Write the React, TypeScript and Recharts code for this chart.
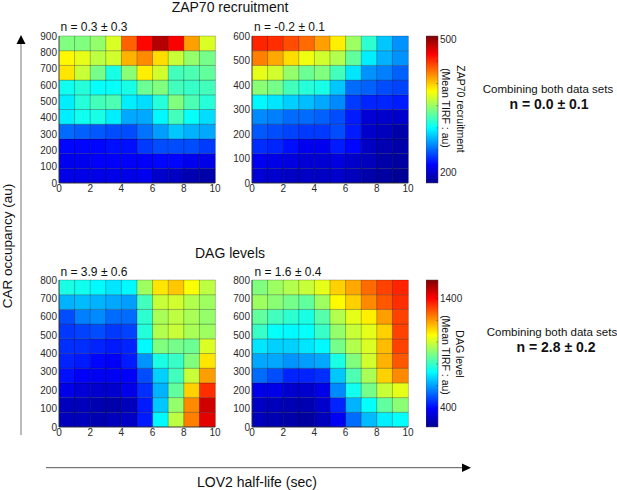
import React from 'react';
import { BarChart, Bar, Cell, XAxis, YAxis } from 'recharts';

// cell values in au, listed as in the picture: top row first
const zapLeft = [
  [342, 342, 348, 371, 434, 464, 490, 467, 414, 371],
  [385, 375, 361, 368, 408, 421, 394, 365, 348, 338],
  [391, 365, 338, 308, 345, 388, 368, 322, 325, 332],
  [305, 312, 302, 302, 308, 335, 342, 322, 318, 322],
  [295, 312, 322, 325, 295, 289, 312, 342, 325, 312],
  [295, 305, 308, 295, 272, 272, 298, 322, 302, 289],
  [252, 249, 246, 242, 242, 255, 269, 282, 275, 272],
  [219, 219, 219, 222, 222, 236, 242, 242, 242, 236],
  [212, 212, 216, 216, 216, 216, 219, 219, 212, 209],
  [209, 209, 209, 209, 209, 212, 199, 196, 189, 186],
];
const zapRight = [
  [454, 451, 441, 431, 414, 388, 351, 315, 282, 265],
  [424, 411, 394, 378, 368, 358, 332, 295, 275, 265],
  [375, 368, 348, 335, 342, 322, 292, 265, 259, 249],
  [345, 338, 322, 312, 308, 282, 252, 249, 242, 239],
  [298, 292, 285, 279, 272, 262, 236, 229, 229, 226],
  [262, 259, 252, 252, 249, 242, 226, 202, 199, 199],
  [246, 242, 239, 236, 236, 242, 226, 199, 193, 186],
  [232, 229, 222, 212, 212, 226, 219, 196, 189, 186],
  [212, 209, 206, 202, 202, 206, 199, 193, 186, 183],
  [202, 199, 196, 196, 196, 199, 193, 186, 183, 179],
];
const dagLeft = [
  [760, 747, 720, 693, 720, 936, 1098, 1139, 1058, 977],
  [625, 638, 625, 611, 598, 814, 990, 1004, 963, 936],
  [490, 557, 571, 530, 530, 787, 950, 977, 950, 923],
  [463, 476, 490, 463, 476, 774, 963, 990, 950, 936],
  [449, 449, 435, 422, 435, 720, 896, 882, 868, 1017],
  [435, 422, 395, 381, 422, 584, 760, 801, 896, 1098],
  [408, 381, 368, 368, 381, 490, 665, 814, 990, 1193],
  [354, 327, 314, 314, 354, 449, 625, 855, 1126, 1342],
  [287, 287, 273, 260, 287, 422, 652, 923, 1220, 1464],
  [287, 287, 273, 287, 300, 422, 720, 977, 1234, 1437],
];
const dagRight = [
  [896, 936, 963, 990, 1031, 1126, 1180, 1261, 1315, 1356],
  [936, 909, 882, 855, 936, 1071, 1126, 1220, 1288, 1342],
  [855, 814, 787, 760, 841, 963, 1031, 1085, 1193, 1315],
  [801, 733, 720, 733, 801, 923, 990, 1031, 1126, 1315],
  [693, 665, 665, 693, 720, 882, 963, 1017, 1153, 1315],
  [611, 611, 584, 598, 611, 760, 896, 1004, 1166, 1288],
  [530, 490, 435, 435, 449, 652, 828, 950, 1126, 1220],
  [354, 354, 314, 314, 354, 571, 747, 882, 990, 1031],
  [300, 287, 273, 273, 314, 435, 625, 733, 855, 909],
  [287, 273, 260, 246, 287, 368, 530, 638, 706, 733],
];

const halfLifeCentres = [0.5, 1.5, 2.5, 3.5, 4.5, 5.5, 6.5, 7.5, 8.5, 9.5];
const halfLifeTicks = [0, 2, 4, 6, 8, 10];
const occupancyTicks900 = [0, 100, 200, 300, 400, 500, 600, 700, 800, 900];
const occupancyTicks800 = [0, 100, 200, 300, 400, 500, 600, 700, 800];
const occupancyTicks600 = [0, 100, 200, 300, 400, 500, 600];

const zapRange: [number, number] = [176, 507];
const dagRange: [number, number] = [219, 1572];
const zapBarTicks = [200, 250, 300, 350, 400, 450, 500];
const dagBarTicks = [400, 600, 800, 1000, 1200, 1400];
const zapBarLabels = [200, 500];
const dagBarLabels = [400, 1400];

// jet colormap
const jetStops: [number, string][] = [
  [0, '#00008f'],
  [0.125, '#0000ff'],
  [0.375, '#00ffff'],
  [0.625, '#ffff00'],
  [0.875, '#ff0000'],
  [1, '#800000'],
];

const FONT = '"Liberation Sans", Arial, sans-serif';
const TICK = { fontSize: 10, fill: '#2a2a2a', fontFamily: FONT };

function hexToRgb(hex: string) {
  return [1, 3, 5].map(i => parseInt(hex.slice(i, i + 2), 16));
}

function jet(value: number, range: [number, number]) {
  const t = Math.min(1, Math.max(0, (value - range[0]) / (range[1] - range[0])));
  const idx = jetStops.findIndex(s => s[0] >= t);
  if (idx <= 0) return jetStops[0][1];
  const [t0, c0] = jetStops[idx - 1];
  const [t1, c1] = jetStops[idx];
  const a = hexToRgb(c0);
  const b = hexToRgb(c1);
  const f = (t - t0) / (t1 - t0);
  return `rgb(${a.map((v, i) => Math.round(v + (b[i] - v) * f)).join(',')})`;
}

interface HeatmapProps {
  rows: number[][];
  yMax: number;
  yTicks: number[];
  range: [number, number];
  left: number;
  top: number;
}

function Heatmap({ rows, yMax, yTicks, range, left, top }: HeatmapProps) {
  const bottomUp = [...rows].reverse();
  const binHeight = yMax / rows.length;
  const data = halfLifeCentres.map(x => {
    const d: Record<string, number> = { x };
    bottomUp.forEach((_, r) => {
      d[`r${r}`] = binHeight;
    });
    return d;
  });
  return (
    <div style={{ position: 'absolute', left, top }}>
      <BarChart
        width={201}
        height={178}
        data={data}
        barCategoryGap={0}
        margin={{ top: 8, right: 10, bottom: 0, left: 0 }}
      >
        <XAxis
          dataKey="x"
          type="number"
          domain={[0, 10]}
          ticks={halfLifeTicks}
          interval={0}
          tick={TICK}
          tickSize={0}
          tickMargin={2}
          height={23}
          axisLine={{ stroke: '#333', strokeWidth: 0.8 }}
        />
        <YAxis
          type="number"
          domain={[0, yMax]}
          ticks={yTicks}
          interval={0}
          tick={TICK}
          tickSize={0}
          tickMargin={2}
          width={35}
          axisLine={{ stroke: '#333', strokeWidth: 0.8 }}
        />
        {bottomUp.map((row, r) => (
          <Bar key={r} dataKey={`r${r}`} stackId="cells" isAnimationActive={false}>
            {row.map((value, c) => (
              <Cell key={c} fill={jet(value, range)} stroke="#000" strokeOpacity={0.32} strokeWidth={0.7} />
            ))}
          </Bar>
        ))}
      </BarChart>
    </div>
  );
}

interface ColorbarProps {
  id: string;
  range: [number, number];
  ticks: number[];
  labels: number[];
  left: number;
  top: number;
}

function Colorbar({ id, range, ticks, labels, left, top }: ColorbarProps) {
  // every tick gets a faint mark, only some of them a number
  const renderTick = ({ x, y, payload }: any) => (
    <g>
      <line x1={x - 2} x2={x} y1={y} y2={y} stroke="#000" strokeOpacity={0.35} strokeWidth={0.7} />
      {labels.includes(payload.value) && (
        <text x={x + 2} y={y} dy="0.35em" fontSize={10} fill="#2a2a2a" fontFamily={FONT}>
          {payload.value}
        </text>
      )}
    </g>
  );
  return (
    <div style={{ position: 'absolute', left, top: top - 6 }}>
      <BarChart
        width={43}
        height={159}
        data={[{ level: range[1] }]}
        barCategoryGap={0}
        margin={{ top: 6, right: 0, bottom: 6, left: 0 }}
      >
        <defs>
          <linearGradient id={id} x1="0" y1="1" x2="0" y2="0">
            {jetStops.map(([offset, color]) => (
              <stop key={offset} offset={offset} stopColor={color} />
            ))}
          </linearGradient>
        </defs>
        <XAxis hide dataKey="level" />
        <YAxis
          orientation="right"
          type="number"
          domain={range}
          ticks={ticks}
          interval={0}
          tick={renderTick}
          tickSize={0}
          tickMargin={0}
          width={31}
          axisLine={false}
        />
        <Bar dataKey="level" fill={`url(#${id})`} stroke="#445" strokeWidth={0.5} isAnimationActive={false} />
      </BarChart>
    </div>
  );
}

function Label({ x, y, size, bold, rotate, children }: {
  x: number; y: number; size: number; bold?: boolean; rotate?: number; children: React.ReactNode;
}) {
  return (
    <div
      style={{
        position: 'absolute',
        left: x,
        top: y,
        transform: `translate(-50%, -50%) rotate(${rotate ?? 0}deg)`,
        fontSize: size,
        fontWeight: bold ? 700 : 400,
        fontFamily: FONT,
        color: '#111',
        whiteSpace: 'nowrap',
      }}
    >
      {children}
    </div>
  );
}

export default function App() {
  return (
    <div style={{ position: 'absolute', left: 0, top: 0, width: 617, height: 490, background: '#fff', overflow: 'hidden' }}>
      <Heatmap rows={zapLeft} yMax={900} yTicks={occupancyTicks900} range={zapRange} left={24} top={28} />
      <Heatmap rows={zapRight} yMax={600} yTicks={occupancyTicks600} range={zapRange} left={217} top={28} />
      <Heatmap rows={dagLeft} yMax={800} yTicks={occupancyTicks800} range={dagRange} left={24} top={272} />
      <Heatmap rows={dagRight} yMax={800} yTicks={occupancyTicks800} range={dagRange} left={217} top={272} />
      <Colorbar id="zapJet" range={zapRange} ticks={zapBarTicks} labels={zapBarLabels} left={426} top={36} />
      <Colorbar id="dagJet" range={dagRange} ticks={dagBarTicks} labels={dagBarLabels} left={426} top={280} />

      <Label x={230} y={7} size={14}>ZAP70 recruitment</Label>
      <Label x={230} y={253} size={14}>DAG levels</Label>
      <Label x={94} y={27} size={12}>n = 0.3 ± 0.3</Label>
      <Label x={289.5} y={27} size={12}>n = -0.2 ± 0.1</Label>
      <Label x={94} y={272} size={12}>n = 3.9 ± 0.6</Label>
      <Label x={288} y={272} size={12}>n = 1.6 ± 0.4</Label>
      <Label x={460.5} y={108.7} size={10.5} rotate={90}>ZAP70 recruitment</Label>
      <Label x={446} y={108} size={10.5} rotate={90}>(Mean TIRF : au)</Label>
      <Label x={460} y={354} size={10.5} rotate={90}>DAG level</Label>
      <Label x={446} y={355} size={10.5} rotate={90}>(Mean TIRF : au)</Label>
      <Label x={548} y={89} size={11.5}>Combining both data sets</Label>
      <Label x={549} y={104} size={14} bold>n = 0.0 ± 0.1</Label>
      <Label x={552} y={332} size={11.5}>Combining both data sets</Label>
      <Label x={556} y={347} size={14} bold>n = 2.8 ± 0.2</Label>
      <Label x={7} y={246} size={13.5} rotate={-90}>CAR occupancy (au)</Label>
      <Label x={257} y={482} size={14}>LOV2 half-life (sec)</Label>

      <svg width={617} height={490} style={{ position: 'absolute', left: 0, top: 0, pointerEvents: 'none' }}>
        <line x1={21} y1={435} x2={21} y2={42} stroke="#777" strokeWidth={1} />
        <path d="M21 35 L25.5 44 L16.5 44 Z" fill="#000" />
        <line x1={46} y1={467.7} x2={463} y2={467.7} stroke="#555" strokeWidth={1} />
        <path d="M471 467.7 L462 463.5 L462 472 Z" fill="#000" />
      </svg>
    </div>
  );
}
